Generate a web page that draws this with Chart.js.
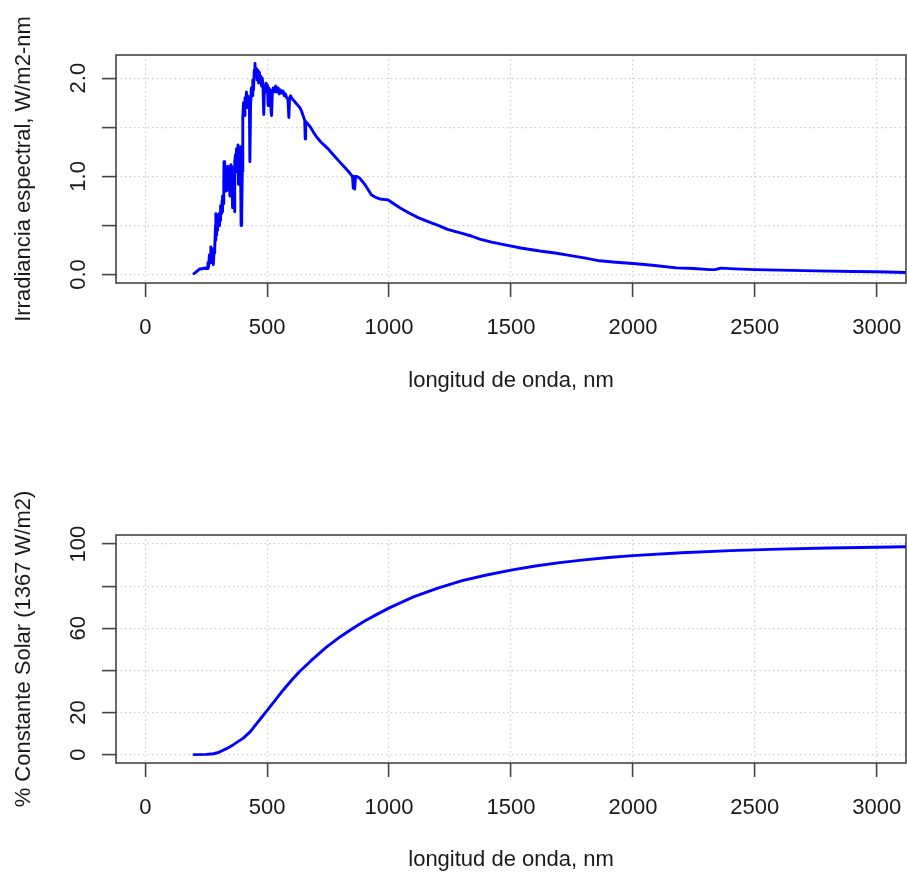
<!DOCTYPE html>
<html>
<head>
<meta charset="utf-8">
<script src="https://cdn.jsdelivr.net/npm/chart.js@4.4.1/dist/chart.umd.min.js"></script>
<style>
  html, body { margin: 0; padding: 0; background: #ffffff; }
  #wrap { position: relative; width: 907px; height: 879px; }
  canvas { position: absolute; left: 0; }
  #c1 { top: 0; }
  #c2 { top: 440px; }
</style>
</head>
<body>
<div id="wrap">
  <canvas id="c1" width="907" height="440"></canvas>
  <canvas id="c2" width="907" height="439"></canvas>
</div>
<script>
// ---------- Data ----------
const wavelengthTop = [
  200, 205, 210, 215, 220, 225, 230, 235, 240, 245, 250, 254, 257, 260, 263, 266,
  269, 272, 276, 279, 282, 284, 286, 288, 289, 290, 292, 293, 295, 296, 298, 300,
  302, 303, 305, 307, 308, 310, 311, 313, 315, 316, 318, 320, 322, 323, 325, 327,
  329, 331, 333, 335, 337, 339, 341, 343, 345, 347, 349, 351, 353, 355, 357, 358,
  360, 362, 364, 366, 368, 370, 372, 374, 376, 378, 380, 382, 384, 386, 388, 390,
  391, 393, 395, 396, 398, 400, 403, 406, 409, 412, 415, 418, 421, 424, 427, 429,
  432, 435, 438, 441, 444, 447, 450, 453, 456, 459, 462, 465, 468, 471, 474, 477,
  480, 483, 486, 489, 492, 495, 498, 501, 504, 507, 510, 513, 516, 518, 521, 525,
  530, 535, 540, 545, 550, 555, 560, 565, 570, 575, 580, 585, 589, 592, 596, 600,
  610, 620, 634, 640, 650, 654, 656, 658, 665, 675, 690, 700, 720, 750, 771, 800,
  830, 850, 853, 856, 859, 862, 866, 880, 900, 928, 950, 962, 996, 1044, 1080, 1119,
  1160, 1201, 1240, 1269, 1300, 1340, 1372, 1420, 1481, 1540, 1618, 1680, 1727, 1800, 1863, 1930,
  2000, 2080, 2178, 2250, 2314, 2340, 2361, 2420, 2499, 2600, 2751, 2900, 3000, 3116, 3200
];
const irradiance = [
  0.01, 0.02, 0.03, 0.04, 0.05, 0.06, 0.055, 0.06, 0.065, 0.06, 0.07, 0.06, 0.12, 0.08, 0.20, 0.12,
  0.28, 0.20, 0.26, 0.10, 0.22, 0.30, 0.26, 0.50, 0.35, 0.62, 0.40, 0.55, 0.45, 0.60, 0.48, 0.58,
  0.62, 0.50, 0.60, 0.55, 0.70, 0.60, 0.68, 0.62, 0.75, 0.64, 0.80, 0.72, 0.95, 1.15, 0.85, 0.95,
  1.02, 0.85, 1.05, 0.95, 1.10, 0.86, 1.00, 0.92, 1.08, 0.80, 1.05, 1.12, 0.95, 1.10, 0.85, 0.68,
  1.05, 0.95, 1.05, 0.64, 1.15, 1.22, 1.05, 1.28, 1.12, 1.20, 1.32, 0.92, 1.25, 1.05, 1.18, 1.30,
  1.05, 0.50, 0.85, 0.60, 1.05, 1.60, 1.75, 1.62, 1.80, 1.72, 1.86, 1.70, 1.82, 1.74, 1.78, 1.15,
  1.72, 1.90, 1.82, 1.98, 1.88, 2.08, 2.15, 2.02, 2.10, 1.98, 2.08, 1.95, 2.06, 1.96, 2.02, 1.92,
  2.00, 1.90, 1.63, 1.92, 1.86, 1.95, 1.88, 1.93, 1.72, 1.90, 1.82, 1.88, 1.66, 1.62, 1.84, 1.90,
  1.86, 1.92, 1.86, 1.90, 1.84, 1.88, 1.85, 1.87, 1.82, 1.84, 1.80, 1.79, 1.60, 1.80, 1.82, 1.80,
  1.77, 1.74, 1.70, 1.67, 1.60, 1.57, 1.38, 1.56, 1.54, 1.51, 1.45, 1.41, 1.35, 1.28, 1.22, 1.14,
  1.06, 1.00, 0.88, 1.00, 0.87, 0.99, 1.00, 0.98, 0.92, 0.81, 0.78, 0.77, 0.76, 0.68, 0.63, 0.58,
  0.54, 0.50, 0.46, 0.44, 0.42, 0.39, 0.36, 0.33, 0.30, 0.27, 0.24, 0.22, 0.20, 0.17, 0.14, 0.125,
  0.112, 0.095, 0.068, 0.062, 0.050, 0.052, 0.065, 0.058, 0.050, 0.045, 0.037, 0.031, 0.028, 0.021, 0.019
];

const wavelengthBottom = [
  200, 250, 280, 300, 333, 360, 402, 430, 456, 480, 500, 530, 566, 600, 634, 680,
  743, 800, 852, 900, 950, 1003, 1100, 1200, 1300, 1400, 1500, 1600, 1700, 1800, 1900, 2000,
  2200, 2400, 2600, 2800, 3000, 3200
];
const cumulativePct = [
  0, 0.1, 0.4, 1.0, 2.8, 4.6, 7.8, 10.8, 14.6, 18.1, 21.0, 25.4, 30.7, 35.3, 39.6, 44.6,
  51.0, 56.0, 60.0, 63.4, 66.6, 69.8, 74.9, 79.1, 82.6, 85.3, 87.6, 89.6, 91.2, 92.5, 93.6, 94.5,
  95.9, 96.9, 97.6, 98.1, 98.5, 98.9
];

const xTickValues = [0, 500, 1000, 1500, 2000, 2500, 3000];
const xTickLabels = ['0', '500', '1000', '1500', '2000', '2500', '3000'];
const yTopTickValues = [0, 0.5, 1.0, 1.5, 2.0];
const yTopTickLabels = ['0.0', '', '1.0', '', '2.0'];
const yBottomTickValues = [0, 20, 40, 60, 80, 100];
const yBottomTickLabels = ['0', '20', '', '60', '', '100'];

const xTitle = 'longitud de onda, nm';
const yTopTitle = 'Irradiancia espectral, W/m2-nm';
const yBottomTitle = '% Constante Solar (1367 W/m2)';

// ---------- Rendering ----------
const FONT = 'Liberation Sans, Arial, Helvetica, sans-serif';
const TXT = '#1a1a1a';
const GRID = '#cfcfcf';
const AXC = '#444444';

const boxPlugin = {
  id: 'rbox',
  afterDatasetsDraw(chart) {
    const a = chart.chartArea, ctx = chart.ctx;
    ctx.save();
    ctx.strokeStyle = AXC;
    ctx.lineWidth = 1.6;
    ctx.setLineDash([]);
    ctx.strokeRect(a.left, a.top, a.right - a.left, a.bottom - a.top);
    ctx.restore();
  }
};

function makeChart(id, xs, ys, cfg) {
  const pts = xs.map((x, i) => ({ x: x, y: ys[i] }));
  return new Chart(document.getElementById(id), {
    type: 'line',
    data: { datasets: [{
      data: pts,
      borderColor: '#0000ff',
      borderWidth: 2.9,
      borderJoinStyle: 'round',
      borderCapStyle: 'round',
      pointRadius: 0,
      tension: 0,
      fill: false
    }]},
    plugins: [boxPlugin],
    options: {
      responsive: false,
      animation: false,
      devicePixelRatio: 1,
      layout: { padding: { top: cfg.padTop, right: 1, left: 0, bottom: 0 } },
      plugins: { legend: { display: false }, tooltip: { enabled: false } },
      scales: {
        x: {
          type: 'linear',
          min: -120, max: 3120,
          afterBuildTicks: s => { s.ticks = xTickValues.map(v => ({ value: v })); },
          afterFit: s => { s.height = cfg.xAxisH; s.paddingLeft = 0; s.paddingRight = 0; },
          ticks: {
            autoSkip: false, maxRotation: 0, minRotation: 0,
            padding: 18,
            color: TXT,
            font: { family: FONT, size: 22 },
            callback: (v, i) => xTickLabels[i]
          },
          grid: {
            color: GRID, lineWidth: 1.2,
            drawTicks: true, tickLength: 14, tickColor: AXC, tickWidth: 1.6, tickBorderDash: []
          },
          border: { display: false, dash: [1.5, 3] },
          title: {
            display: true, text: xTitle, color: TXT,
            font: { family: FONT, size: 22 },
            padding: { top: 0, bottom: cfg.xTitlePad }
          }
        },
        y: {
          type: 'linear',
          min: cfg.yMin, max: cfg.yMax,
          afterBuildTicks: s => { s.ticks = cfg.yTicks.map(v => ({ value: v })); },
          afterFit: s => { s.width = 116; s.paddingTop = 0; s.paddingBottom = 0; },
          ticks: {
            autoSkip: false, minRotation: 90, maxRotation: 90,
            crossAlign: 'center',
            padding: cfg.yTickPad,
            color: TXT,
            font: { family: FONT, size: 22 },
            callback: (v, i) => cfg.yLabels[i]
          },
          grid: {
            color: GRID, lineWidth: 1.2,
            drawTicks: true, tickLength: 14, tickColor: AXC, tickWidth: 1.6, tickBorderDash: []
          },
          border: { display: false, dash: [1.5, 3] },
          title: {
            display: true, text: cfg.yTitle, color: TXT,
            font: { family: FONT, size: 22 },
            padding: { top: 11, bottom: 0 }
          }
        }
      }
    }
  });
}

makeChart('c1', wavelengthTop, irradiance, {
  padTop: 55, xAxisH: 157, xTitlePad: 46,
  yMin: -0.086, yMax: 2.236, yTicks: yTopTickValues, yLabels: yTopTickLabels,
  yTickPad: 8, yTitle: yTopTitle
});
makeChart('c2', wavelengthBottom, cumulativePct, {
  padTop: 95, xAxisH: 116, xTitlePad: 6,
  yMin: -4.0, yMax: 104.3, yTicks: yBottomTickValues, yLabels: yBottomTickLabels,
  yTickPad: 5, yTitle: yBottomTitle
});
</script>
</body>
</html>
